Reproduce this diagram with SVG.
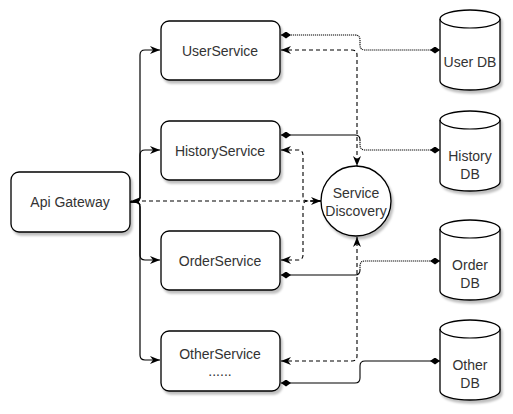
<svg xmlns="http://www.w3.org/2000/svg" width="513" height="414" viewBox="0 0 513 414">
<defs>
<filter id="sh" x="-10%" y="-10%" width="130%" height="130%">
<feDropShadow dx="2" dy="3" stdDeviation="1" flood-color="#000" flood-opacity="0.25"/>
</filter>
<marker id="arr" markerUnits="userSpaceOnUse" markerWidth="10" markerHeight="8" refX="10" refY="4" orient="auto-start-reverse" viewBox="0 0 10 8">
<path d="M0,0 L10,4 L0,8 L3,4 z" fill="#000"/>
</marker>
<marker id="dia" markerUnits="userSpaceOnUse" markerWidth="10" markerHeight="7" refX="10" refY="3.5" orient="auto-start-reverse" viewBox="0 0 10 7">
<path d="M0,3.5 L5,0 L10,3.5 L5,7 z" fill="#000"/>
</marker>
</defs>
<style>
.box{fill:#fff;stroke:#000;stroke-width:1.3;filter:url(#sh)}
.t{font-family:"Liberation Sans",Arial,sans-serif;font-size:14px;fill:#333;text-anchor:middle}
.solid{fill:none;stroke:#000;stroke-width:1.2}
.dash{fill:none;stroke:#000;stroke-width:1.1;stroke-dasharray:4 3}
.dot{fill:none;stroke:#000;stroke-width:1.1;stroke-dasharray:1.2 0.8}
.thin{fill:none;stroke:#000;stroke-width:1.1}
</style>
<g id="connectors">
<path class="solid" marker-end="url(#arr)" d="M130,202 H135 Q140,202 140,197 V55 Q140,50 145,50 H160"/>
<path class="solid" marker-end="url(#arr)" d="M130,202 H135 Q140,202 140,197 V155 Q140,150 145,150 H160"/>
<path class="solid" marker-end="url(#arr)" d="M130,202 H135 Q140,202 140,207 V255 Q140,260 145,260 H160"/>
<path class="solid" marker-end="url(#arr)" d="M130,202 H135 Q140,202 140,207 V355 Q140,360 145,360 H160"/>
<path class="dash" marker-start="url(#arr)" marker-end="url(#arr)" d="M321,201 H131"/>
<path class="dash" marker-start="url(#arr)" d="M281,150 H298 Q303,150 303,155 V196 Q303,201 308,201 H321"/>
<path class="dash" marker-start="url(#arr)" d="M281,260 H298 Q303,260 303,255 V206 Q303,201 308,201 H321"/>
<path class="dash" marker-start="url(#arr)" marker-end="url(#arr)" d="M281,50 H352 Q357,50 357,55 V166"/>
<path class="dash" marker-start="url(#arr)" marker-end="url(#arr)" d="M281,361 H352 Q357,361 357,356 V237"/>
<path class="dot" marker-start="url(#dia)" marker-end="url(#dia)" d="M281,35 H355 Q360,35 360,40 V45 Q360,50 365,50 H440"/>
<path class="thin" marker-start="url(#dia)" d="M281,135 H355 Q360,135 360,140"/>
<path class="dot" marker-end="url(#dia)" d="M360,140 V145 Q360,150 365,150 H440"/>
<path class="thin" marker-start="url(#dia)" d="M281,275 H355 Q360,275 360,270"/>
<path class="dot" marker-end="url(#dia)" d="M360,270 V266 Q360,261 365,261 H440"/>
<path class="thin" marker-start="url(#dia)" marker-end="url(#dia)" d="M281,383 H355 Q360,383 360,378 V366 Q360,361 365,361 H440"/>
</g>
<g id="api-gateway">
<rect class="box" x="11" y="172" width="119" height="60" rx="8"/>
<text class="t" x="70" y="207">Api Gateway</text>
</g>
<g id="user-service">
<rect class="box" x="161" y="21" width="119" height="59" rx="8"/>
<text class="t" x="220" y="56">UserService</text>
</g>
<g id="history-service">
<rect class="box" x="161" y="121" width="119" height="59" rx="8"/>
<text class="t" x="220" y="156">HistoryService</text>
</g>
<g id="order-service">
<rect class="box" x="161" y="231" width="119" height="59" rx="8"/>
<text class="t" x="220" y="266">OrderService</text>
</g>
<g id="other-service">
<rect class="box" x="161" y="331" width="119" height="60" rx="8"/>
<text class="t" x="220" y="359">OtherService</text>
<text class="t" x="220" y="376">......</text>
</g>
<g id="service-discovery">
<circle class="box" cx="356" cy="201" r="35"/>
<text class="t" x="356" y="198">Service</text>
<text class="t" x="356" y="216">Discovery</text>
</g>
<g id="user-db">
<path class="box" d="M440,19 A30,9 0 0 1 500,19 V81 A30,9 0 0 1 440,81 Z"/>
<path class="thin" d="M440,19 A30,9 0 0 0 500,19"/>
<text class="t" x="470" y="67">User DB</text>
</g>
<g id="history-db">
<path class="box" d="M440,120 A30,9 0 0 1 500,120 V182 A30,9 0 0 1 440,182 Z"/>
<path class="thin" d="M440,120 A30,9 0 0 0 500,120"/>
<text class="t" x="470" y="161">History</text>
<text class="t" x="470" y="179">DB</text>
</g>
<g id="order-db">
<path class="box" d="M440,229 A30,9 0 0 1 500,229 V291 A30,9 0 0 1 440,291 Z"/>
<path class="thin" d="M440,229 A30,9 0 0 0 500,229"/>
<text class="t" x="470" y="270">Order</text>
<text class="t" x="470" y="288">DB</text>
</g>
<g id="other-db">
<path class="box" d="M440,329 A30,9 0 0 1 500,329 V391 A30,9 0 0 1 440,391 Z"/>
<path class="thin" d="M440,329 A30,9 0 0 0 500,329"/>
<text class="t" x="470" y="370">Other</text>
<text class="t" x="470" y="388">DB</text>
</g>
</svg>
